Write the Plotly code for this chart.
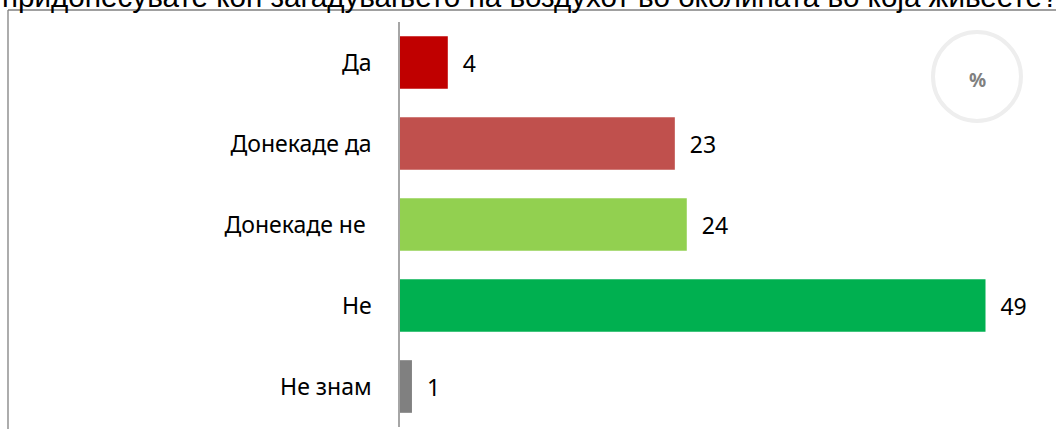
import plotly.graph_objects as go

categories = ["Да", "Донекаде да", "Донекаде не ", "Не", "Не знам"]
values = [4, 23, 24, 49, 1]
colors = ["#C00000", "#C0504D", "#92D050", "#00B050", "#808080"]
title_text = "придонесувате кон загадувањето на воздухот во околината во која живеете?"

W, H = 1056, 429
ML, MR, MT, MB = 400, 0, 22, 2
PW = W - ML - MR
PH = H - MT - MB

def px_x(px):
    return (px - ML) / PW

def px_y(py):
    return (H - MB - py) / PH

fig = go.Figure(go.Bar(
    y=categories, x=values, orientation="h",
    marker=dict(color=colors, line=dict(width=0)),
    text=["  " + str(v) for v in values],
    textposition="outside",
    textfont=dict(family="Noto Sans", size=23, color="#000000"),
    cliponaxis=False,
    width=0.65,
))

fig.update_layout(
    width=W, height=H,
    margin=dict(l=ML, r=MR, t=MT, b=MB),
    paper_bgcolor="white", plot_bgcolor="white",
    showlegend=False,
    bargap=0.35,
    xaxis=dict(range=[0, 54.9], visible=False, fixedrange=True),
    yaxis=dict(autorange="reversed", showline=True, linecolor="#A6A6A6", linewidth=1.5,
               ticks="", showgrid=False, fixedrange=True,
               tickfont=dict(family="Noto Sans", size=23, color="#000000"),
               ticklabelstandoff=22),
    font=dict(family="Noto Sans"),
    shapes=[
        dict(type="line", xref="paper", yref="paper",
             x0=px_x(8), x1=px_x(1060), y0=px_y(10), y1=px_y(10),
             line=dict(color="#808080", width=1.3)),
        dict(type="line", xref="paper", yref="paper",
             x0=px_x(8), x1=px_x(8), y0=px_y(10), y1=px_y(432),
             line=dict(color="#808080", width=1.3)),
        dict(type="circle", xref="paper", yref="paper",
             x0=px_x(933), x1=px_x(1021), y0=px_y(32), y1=px_y(121),
             line=dict(color="#EEEEEE", width=4)),
    ],
    annotations=[
        dict(text=title_text, xref="paper", yref="paper",
             x=px_x(0), y=px_y(15), xanchor="left", yanchor="bottom",
             showarrow=False, font=dict(family="Liberation Sans", size=29.6, color="#000000")),
        dict(text="<b>%</b>", xref="paper", yref="paper",
             x=px_x(977), y=px_y(80), xanchor="center", yanchor="middle",
             showarrow=False, font=dict(family="Noto Sans", size=19, color="#808080")),
    ],
)

fig.write_html("out.html", config={"displayModeBar": False},
               post_script="document.body.style.margin='0';")
